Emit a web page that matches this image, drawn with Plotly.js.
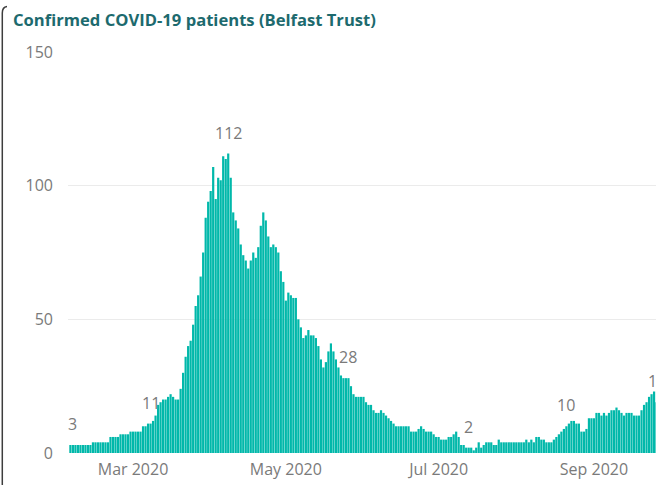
<!DOCTYPE html>
<html><head><meta charset="utf-8">
<script src="https://cdn.plot.ly/plotly-3.0.1.min.js"></script>
<style>
html,body{margin:0;padding:0;overflow:hidden;background:#fff;width:656px;height:485px}
#chart{width:720px;height:485px}
</style>
</head><body><div id="chart"></div>
<script>
// First day shown and daily confirmed COVID-19 inpatients (Belfast Trust)
const startDate = '2020-02-05';
const patients = [
  3,3,3,3,3,3,3,3,3,
  4,4,4,4,4,4,4,
  6,6,6,6,
  7,7,7,7,
  8,8,8,8,8,
  10,10,11,11,12,14,18,19,20,20,21,22,21,20,20,24,30,36,40,42,48,55,59,66,75,88,94,98,107,95,103,102,111,110,112,103,
  90,87,84,78,74,72,69,72,75,73,77,85,90,87,81,77,78,77,75,68,64,57,60,59,58,58,50,47,43,44,46,44,44,43,40,35,32,34,38,41,38,35,32,29,28,28,28,25,
  22,21,21,21,21,19,18,18,16,15,15,16,15,14,13,12,11,10,10,10,10,10,10,8,8,8,9,10,9,8,8,8,7,6,6,5,5,5,6,6,7,8,6,3,3,2,2,2,1,2,4,2,3,4,4,4,3,3,5,
  4,4,4,4,4,4,4,4,4,4,5,4,5,4,6,6,5,5,4,4,4,5,6,7,8,9,10,11,12,12,11,11,8,8,9,13,13,13,15,15,14,15,14,15,16,16,17,16,15,14,15,15,15,14,14,14,16,18,19,21,22,23,19
];
// indices of the days that carry a data label
const labelIdx = [1, 32, 63, 111, 159, 198, 234];
const titleText = 'Confirmed COVID-19 patients (Belfast Trust)';
const yTicks = [0, 50, 100, 150];

const DAY = 86400000;
const t0 = Date.parse(startDate + 'T00:00:00Z');
function iso(ms){ return new Date(ms).toISOString().slice(0,19).replace('T',' '); }
const dates = patients.map((_, i) => iso(t0 + i * DAY));

const W = 720, H = 485, ML = 68, MT = 52, MB = 32;
const plotW = W - ML, plotH = H - MT - MB;
const pxPerDay = 2.505;
const firstCenterPx = 70.4;
const rangeStart = t0 - (firstCenterPx - ML) / pxPerDay * DAY;
const rangeEnd = rangeStart + plotW / pxPerDay * DAY;

const px = X => (X - ML) / plotW;
const py = Y => (H - MB - Y) / plotH;

const annotations = labelIdx.map(i => ({
  x: dates[i], y: patients[i], xref: 'x', yref: 'y',
  text: String(patients[i]), showarrow: false, yanchor: 'bottom', yshift: 8,
  font: {family: 'Open Sans, sans-serif', size: 16, color: '#7a7a7a'}
}));

const trace = {
  type: 'bar', x: dates, y: patients,
  marker: {color: '#01B8AA', line: {width: 0}},
  hoverinfo: 'x+y'
};

const layout = {
  width: W, height: H,
  margin: {l: ML, r: 0, t: MT, b: MB, pad: 0},
  paper_bgcolor: '#ffffff', plot_bgcolor: '#ffffff',
  bargap: 0.12,
  showlegend: false,
  font: {family: 'Open Sans, sans-serif', color: '#7a7a7a'},
  title: {
    text: '<b>' + titleText + '</b>',
    font: {family: 'Open Sans, sans-serif', size: 16.6, color: '#1d6a6e'},
    xref: 'container', yref: 'container',
    x: 13 / W, xanchor: 'left', y: 1 - 20 / H, yanchor: 'middle'
  },
  xaxis: {
    type: 'date', range: [iso(rangeStart), iso(rangeEnd)],
    tick0: '2020-03-01', dtick: 'M2', tickformat: '%b %Y',
    showgrid: false, zeroline: false, showline: false, ticks: '',
    ticklabelstandoff: 5,
    tickfont: {size: 16, color: '#7a7a7a'}
  },
  yaxis: {
    range: [0, 150], tickvals: yTicks, ticktext: yTicks.map(String),
    showgrid: true, gridcolor: '#ebebeb', gridwidth: 1,
    zeroline: false, showline: false, ticks: '',
    ticklabelstandoff: 14,
    tickfont: {size: 16, color: '#7a7a7a'}
  },
  annotations: annotations,
  shapes: [{
    type: 'path', xref: 'paper', yref: 'paper',
    path: `M ${px(2.3)},${py(490)} L ${px(2.3)},${py(13)} Q ${px(2.3)},${py(7)} ${px(7)},${py(6.5)}`,
    line: {color: '#3d3d3d', width: 1.5}
  }]
};

Plotly.newPlot('chart', [trace], layout, {staticPlot: true, displayModeBar: false});
</script>
</body></html>
